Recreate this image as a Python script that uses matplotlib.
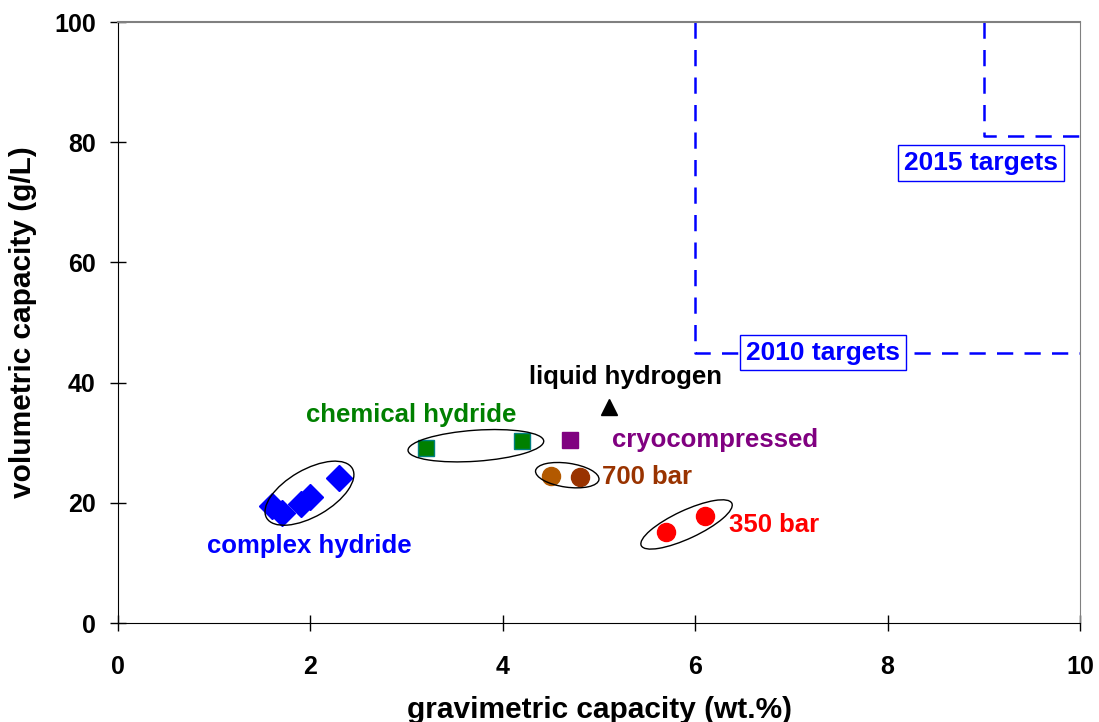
import matplotlib.pyplot as plt
import matplotlib.transforms as mtransforms
from matplotlib.patches import Ellipse

plt.rcParams['font.family'] = ['Liberation Sans', 'DejaVu Sans']
plt.rcParams['font.weight'] = 'bold'

# data (wt.% , g/L)
complex_x = [1.6, 1.7, 1.9, 2.0, 2.3]
complex_y = [19.5, 18.3, 19.8, 21.0, 24.2]
chemical_x = [3.2, 4.2]
chemical_y = [29.1, 30.3]
cryo_x = [4.7]
cryo_y = [30.4]
liquid_x = [5.1]
liquid_y = [35.9]
bar700_x = [4.5, 4.8]
bar700_y = [24.5, 24.3]
bar700_colors = ['#b35900', '#993300']
bar350_x = [5.7, 6.1]
bar350_y = [15.1, 17.8]

# targets (gravimetric, volumetric)
target_years = ['2010', '2015']
target_grav = [6.0, 9.0]
target_vol = [45.0, 81.0]

# ellipses round the groups: centre (data), width/height in px, angle
ell_centres = [(1.99, 21.6), (3.72, 29.5), (4.67, 24.6), (5.91, 16.4)]
ell_sizes = [(99, 47), (136, 31), (64, 24), (100, 28)]
ell_angles = [30, 4, -8, 25]

fig = plt.figure(figsize=(10.99, 7.22), dpi=100)
ax = fig.add_axes([0.1074, 0.1371, 0.8753, 0.8324])

# target lines
for yr, gx, vy in zip(target_years, target_grav, target_vol):
    ax.plot([gx, gx, 10], [100, vy, vy], color='#0000ff', lw=1.8,
            dashes=(6.5, 4.5), clip_on=False, zorder=2)

box = dict(boxstyle='square,pad=0.22', fc='white', ec='#0000ff', lw=1)
ax.text(7.33, 45.0, '2010 targets', color='#0000ff', fontsize=19,
        ha='center', va='center', zorder=3, bbox=box)
ax.text(8.97, 76.5, '2015 targets', color='#0000ff', fontsize=19,
        ha='center', va='center', zorder=3, bbox=box)

# markers
ax.plot(complex_x, complex_y, 'D', color='#0000ff', ms=13, ls='none', zorder=4)
ax.plot(chemical_x, chemical_y, 's', color='#008000', mec='#008080', mew=1,
        ms=12, ls='none', zorder=4)
ax.plot(cryo_x, cryo_y, 's', color='#800080', ms=12, ls='none', zorder=4)
ax.plot(liquid_x, liquid_y, '^', color='black', ms=12, ls='none', zorder=4)
for x, y, c in zip(bar700_x, bar700_y, bar700_colors):
    ax.plot(x, y, 'o', color=c, ms=13, ls='none', zorder=4)
ax.plot(bar350_x, bar350_y, 'o', color='#ff0000', ms=13, ls='none', zorder=4)

# ellipses drawn in pixel units around a data centre
for (cx, cy), (w, h), a in zip(ell_centres, ell_sizes, ell_angles):
    tr = fig.dpi_scale_trans + mtransforms.ScaledTranslation(cx, cy, ax.transData)
    ax.add_patch(Ellipse((0, 0), w / 100, h / 100, angle=a, transform=tr,
                         fill=False, ec='black', lw=1, zorder=5))

# group labels
lab_fs = 18.5
ax.text(1.99, 12.8, 'complex hydride', color='#0000ff', fontsize=lab_fs, ha='center', va='center')
ax.text(3.05, 34.6, 'chemical hydride', color='#008000', fontsize=lab_fs, ha='center', va='center')
ax.text(5.28, 40.9, 'liquid hydrogen', color='black', fontsize=lab_fs, ha='center', va='center')
ax.text(5.13, 30.4, 'cryocompressed', color='#800080', fontsize=lab_fs, ha='left', va='center')
ax.text(5.03, 24.3, '700 bar', color='#993300', fontsize=lab_fs, ha='left', va='center')
ax.text(6.35, 16.3, '350 bar', color='#ff0000', fontsize=lab_fs, ha='left', va='center')

ax.set_xlim(0, 10)
ax.set_ylim(0, 100)
ax.set_xticks(range(0, 11, 2))
ax.set_yticks(range(0, 101, 20))
ax.tick_params(direction='inout', length=12, width=1, labelsize=18,
               top=False, right=False)
ax.tick_params(axis='x', pad=17)
ax.tick_params(axis='y', pad=10)
for lab in ax.get_xticklabels() + ax.get_yticklabels():
    lab.set_fontweight('bold')
ax.spines['top'].set_color('#808080')
ax.spines['right'].set_color('#808080')
ax.spines['top'].set_linewidth(1.5)

ax.set_xlabel('gravimetric capacity (wt.%)', fontsize=21.5, fontweight='bold', labelpad=12)
ax.set_ylabel('volumetric capacity (g/L)', fontsize=21.5, fontweight='bold', labelpad=12)

fig.savefig('out.png', dpi=100)
